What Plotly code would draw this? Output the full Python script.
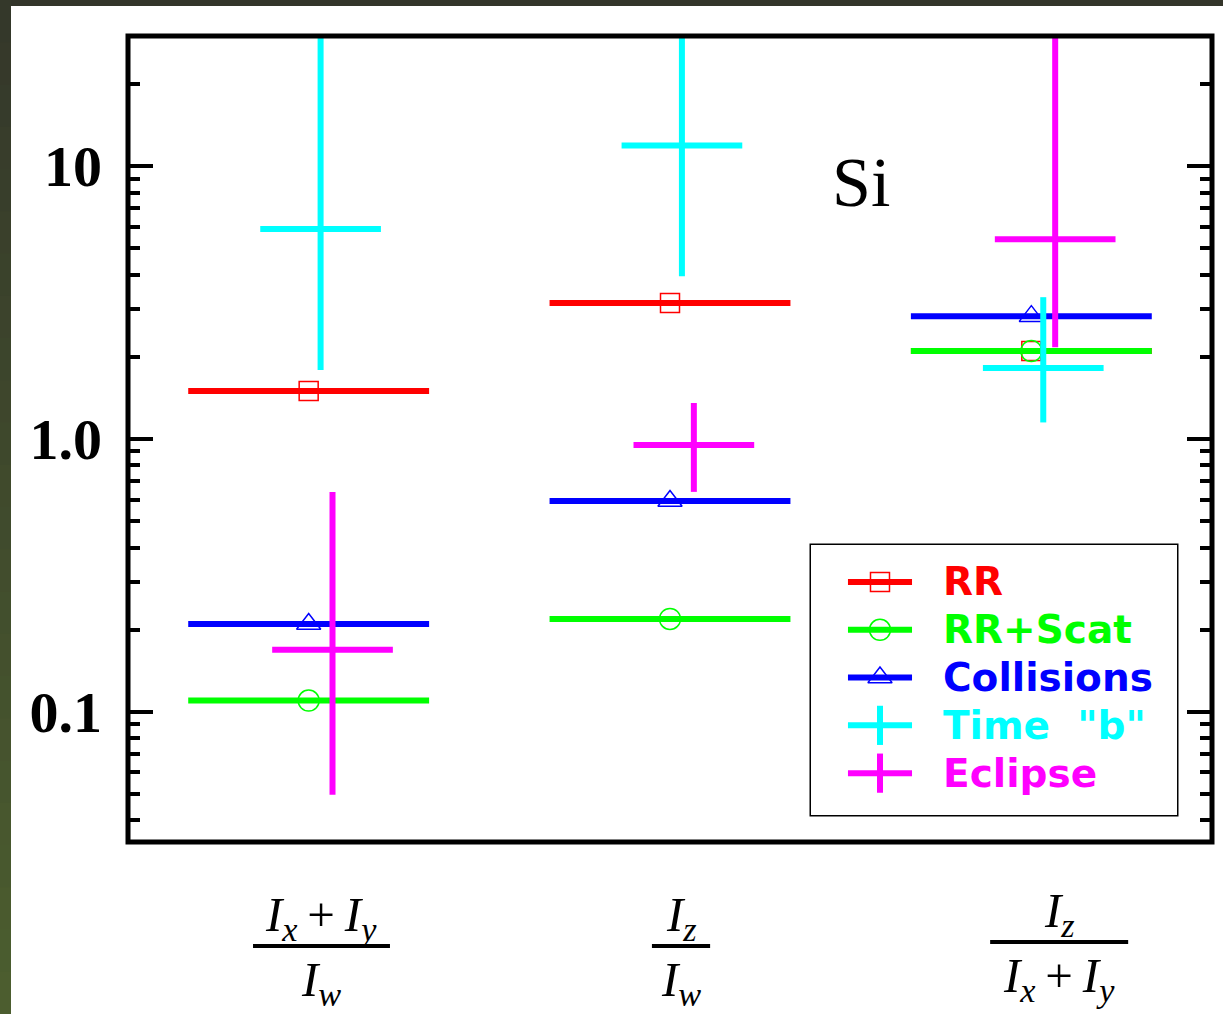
import plotly.graph_objects as go
import math

# ---------------- data ----------------
categories = ["(Ix+Iy)/Iw", "Iz/Iw", "Iz/(Ix+Iy)"]
cat_pos = [1, 2, 3]

rr = [1.50, 3.15, 2.10]
rr_scat = [0.11, 0.219, 2.10]
collisions = [0.21, 0.593, 2.82]

time_b = [5.88, 11.9, 1.82]
time_b_lo = [1.79, 3.95, 1.15]
time_b_hi = [60.0, 60.0, 3.31]

eclipse = [0.169, 0.95, 5.40]
eclipse_lo = [0.0497, 0.64, 2.17]
eclipse_hi = [0.64, 1.355, 60.0]

y_tickvals = [0.1, 1, 10]
y_ticktext = ["0.1", "1.0", "10"]

legend_names = ["RR", "RR+Scat", "Collisions", 'Time\u00a0\u00a0"b"', "Eclipse"]

# ---------------- style ----------------
W, H = 1223, 1014
ML, MR, MT, MB = 128, 11, 36, 172
PW, PH = W - ML - MR, H - MT - MB
RED, GREEN, BLUE, CYAN, MAG = "#ff0000", "#00ff00", "#0000ff", "#00ffff", "#ff00ff"
HALF = 1 / 3
CROSS_HALF = 0.167
OFF_TIME, OFF_ECL = 0.033, 0.066
LW = 6


def px_x(px):
    return (px - ML) / PW


def px_y(py):
    return (H - MB - py) / PH


fig = go.Figure()


def hline_trace(vals, color):
    xs, ys = [], []
    for c, v in zip(cat_pos, vals):
        xs += [c - HALF, c + HALF, None]
        ys += [v, v, None]
    return go.Scatter(x=xs, y=ys, mode="lines", line=dict(color=color, width=LW),
                      showlegend=False, hoverinfo="skip")


def marker_trace(vals, color, symbol, size):
    return go.Scatter(x=cat_pos, y=vals, mode="markers",
                      marker=dict(symbol=symbol, size=size, color=color,
                                  line=dict(width=1.5, color=color)),
                      showlegend=False, hoverinfo="skip")


def cross_traces(vals, lo, hi, off, color):
    hx, hy, vx, vy = [], [], [], []
    for c, v, l, h in zip(cat_pos, vals, lo, hi):
        hx += [c + off - CROSS_HALF, c + off + CROSS_HALF, None]
        hy += [v, v, None]
        vx += [c + off, c + off, None]
        vy += [l, h, None]
    return [go.Scatter(x=vx, y=vy, mode="lines", line=dict(color=color, width=LW),
                       showlegend=False, hoverinfo="skip"),
            go.Scatter(x=hx, y=hy, mode="lines", line=dict(color=color, width=LW),
                       showlegend=False, hoverinfo="skip")]


fig.add_trace(hline_trace(rr, RED))
fig.add_trace(marker_trace(rr, RED, "square-open", 19))
fig.add_trace(hline_trace(rr_scat, GREEN))
fig.add_trace(marker_trace(rr_scat, GREEN, "circle-open", 21))
fig.add_trace(hline_trace(collisions, BLUE))
fig.add_trace(marker_trace(collisions, BLUE, "triangle-up-open", 21))
for t in cross_traces(time_b, time_b_lo, time_b_hi, OFF_TIME, CYAN):
    fig.add_trace(t)
for t in cross_traces(eclipse, eclipse_lo, eclipse_hi, OFF_ECL, MAG):
    fig.add_trace(t)

# ---------------- legend (manual, on a hidden overlay axis) ----------------
LEG_X0, LEG_X1, LEG_Y0, LEG_Y1 = 811, 1177, 545, 815
leg_colors = [RED, GREEN, BLUE, CYAN, MAG]
leg_symbols = ["square-open", "circle-open", "triangle-up-open", "line-ns-open", "line-ns-open"]
leg_sizes = [19, 21, 21, 28, 28]
leg_mlw = [1.5, 1.5, 1.5, 6, 6]
row0, rowstep = 0.137, 0.177
sx0, sx1, tx = 0.101, 0.276, 0.355
for i, name in enumerate(legend_names):
    ry = row0 + i * rowstep
    fig.add_trace(go.Scatter(x=[sx0, sx1], y=[ry, ry], mode="lines",
                             line=dict(color=leg_colors[i], width=LW),
                             xaxis="x2", yaxis="y2", showlegend=False, hoverinfo="skip"))
    fig.add_trace(go.Scatter(x=[(sx0 + sx1) / 2], y=[ry], mode="markers",
                             marker=dict(symbol=leg_symbols[i], size=leg_sizes[i],
                                         color=leg_colors[i],
                                         line=dict(width=leg_mlw[i], color=leg_colors[i])),
                             xaxis="x2", yaxis="y2", showlegend=False, hoverinfo="skip"))
    fig.add_annotation(x=tx, y=ry, xref="x2", yref="y2", text=name, showarrow=False,
                       xanchor="left", yanchor="middle",
                       font=dict(family="DejaVu Sans", size=39, color=leg_colors[i], weight="bold"))

shapes = []
# legend box
shapes.append(dict(type="rect", xref="paper", yref="paper",
                   x0=px_x(LEG_X0), x1=px_x(LEG_X1), y0=px_y(LEG_Y1), y1=px_y(LEG_Y0),
                   line=dict(color="black", width=3), fillcolor="white", layer="below"))
# plot frame
shapes.append(dict(type="rect", xref="paper", yref="paper", x0=0, x1=1, y0=0, y1=1,
                   line=dict(color="black", width=5), layer="above"))
# outer dark frame (top strip + left gradient strip)
shapes.append(dict(type="rect", xref="paper", yref="paper",
                   x0=px_x(0), x1=px_x(W), y0=px_y(6), y1=px_y(0),
                   line=dict(width=0), fillcolor="#33352a", layer="above"))
c0 = (0x34, 0x37, 0x2a)
c1 = (0x4c, 0x5e, 0x2f)
nb = 24
for k in range(nb):
    f = (k + 0.5) / nb
    col = "rgb(%d,%d,%d)" % tuple(round(a + (b - a) * f) for a, b in zip(c0, c1))
    shapes.append(dict(type="rect", xref="paper", yref="paper",
                       x0=px_x(0), x1=px_x(11),
                       y0=px_y(H * (k + 1) / nb + 1), y1=px_y(H * k / nb),
                       line=dict(width=0), fillcolor=col, layer="above"))

# fraction labels under the x axis
SP = "\u2009"
IXIY = "<i>I<sub>x</sub></i>" + SP + "+" + SP + "<i>I<sub>y</sub></i>"
fracs = [
    (IXIY, "<i>I<sub>w</sub></i>", 1.034, 0.846, 1.225, 946),
    ("<i>I<sub>z</sub></i>", "<i>I<sub>w</sub></i>", 2.031, 1.950, 2.111, 946),
    ("<i>I<sub>z</sub></i>", IXIY, 3.077, 2.886, 3.268, 942),
]
for num, den, xc, xb0, xb1, by in fracs:
    fig.add_annotation(x=xc, y=px_y(by + 4), xref="x", yref="paper", text=num,
                       showarrow=False, yanchor="bottom", xanchor="center",
                       font=dict(family="Liberation Serif", size=49, color="black"))
    fig.add_annotation(x=xc, y=px_y(by + 4), xref="x", yref="paper", text=den,
                       showarrow=False, yanchor="top", xanchor="center",
                       font=dict(family="Liberation Serif", size=49, color="black"))
    shapes.append(dict(type="line", xref="x", yref="paper", x0=xb0, x1=xb1,
                       y0=px_y(by), y1=px_y(by), line=dict(color="black", width=4)))

fig.add_annotation(x=px_x(861), y=px_y(182), xref="paper", yref="paper", text="Si",
                   showarrow=False, xanchor="center", yanchor="middle",
                   font=dict(family="Liberation Serif", size=70, color="black"))

fig.update_layout(
    width=W, height=H,
    margin=dict(l=ML, r=MR, t=MT, b=MB, pad=0),
    paper_bgcolor="white", plot_bgcolor="white",
    showlegend=False,
    shapes=shapes,
    xaxis=dict(range=[0.5, 3.5], showgrid=False, zeroline=False, showticklabels=False,
               ticks="", showline=False),
    yaxis=dict(type="log", range=[math.log10(1 / 30), math.log10(30)],
               showgrid=False, zeroline=False, showline=False, mirror="ticks",
               tickmode="array", tickvals=y_tickvals, ticktext=y_ticktext,
               ticks="inside", ticklen=25, tickwidth=4, tickcolor="black",
               ticklabelstandoff=25,
               tickfont=dict(family="Liberation Serif", size=58, color="black", weight="bold"),
               minor=dict(ticks="inside", ticklen=12, tickwidth=4, tickcolor="black",
                          dtick="D1", showgrid=False)),
    xaxis2=dict(domain=[px_x(LEG_X0), px_x(LEG_X1)], range=[0, 1], visible=False,
                anchor="y2", fixedrange=True),
    yaxis2=dict(domain=[px_y(LEG_Y1), px_y(LEG_Y0)], range=[1, 0], visible=False,
                anchor="x2", fixedrange=True),
)

fig.write_html("out.html", config={"displayModeBar": False},
               post_script="document.body.style.margin='0px';document.body.style.overflow='hidden';")
